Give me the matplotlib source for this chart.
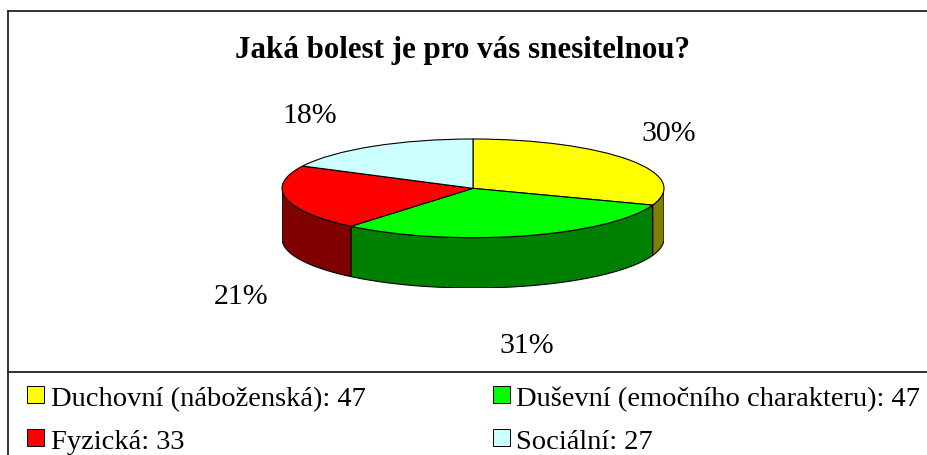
import numpy as np
import matplotlib
matplotlib.use("Agg")
import matplotlib.pyplot as plt
from matplotlib.patches import Rectangle, Polygon

# ---- data ----
categories = ["Duchovní (náboženská)", "Duševní (emočního charakteru)", "Fyzická", "Sociální"]
values = [47, 47, 33, 27]
pct_labels = [30, 31, 21, 18]
title = "Jaká bolest je pro vás snesitelnou?"

top_colors = ["#FFFF00", "#00FF00", "#FF0000", "#CCFFFF"]
side_colors = ["#808000", "#008000", "#800000", "#669999"]

W, H = 928, 456
fig = plt.figure(figsize=(W / 100, H / 100), dpi=100)
FONT = "Liberation Serif"

# background axes in pixel coordinates
bg = fig.add_axes([0, 0, 1, 1])
bg.set_xlim(0, W)
bg.set_ylim(H, 0)
bg.axis("off")

# frame lines
lc = "#222222"
bg.plot([8, W], [12, 12], color=lc, lw=1.3)
bg.plot([8, 8], [12, H], color=lc, lw=1.3)
bg.plot([8, W], [373, 373], color=lc, lw=1.3)

# title
bg.text(463, 58, title, ha="center", va="baseline", fontsize=22.3,
        fontweight="bold", family=FONT)

# ---- 3D-looking pie ----
depth = 1.02  # in units of the vertical semi-axis
left, right, top, bottom = 282, 664, 140, 289
ax = fig.add_axes([left / W, 1 - bottom / H, (right - left) / W, (bottom - top) / H])
wedges, _ = ax.pie(values, colors=top_colors, startangle=90, counterclock=False,
                   wedgeprops=dict(edgecolor="black", linewidth=0.8))
ax.set_aspect("auto")
ax.set_xlim(-1, 1)
ax.set_ylim(-1 - depth, 1)
ax.axis("off")

for w, sc in zip(wedges, side_colors):
    t1, t2 = w.theta1, w.theta2
    # visible front part: angles in (180, 360) modulo 360
    for shift in (-360, 0, 360):
        a1 = max(t1 + shift, 180)
        a2 = min(t2 + shift, 360)
        if a2 > a1:
            t = np.radians(np.linspace(a1, a2, 100))
            xs = np.cos(t)
            ys = np.sin(t)
            pts = np.concatenate([np.column_stack([xs, ys]),
                                  np.column_stack([xs[::-1], ys[::-1] - depth])])
            ax.add_patch(Polygon(pts, closed=True, facecolor=sc, edgecolor="black",
                                 linewidth=0.8, zorder=0.5))

# percentage labels
label_pos = [(669, 141), (527, 353), (241, 304), (310, 123)]
for p, (x, y) in zip(pct_labels, label_pos):
    bg.text(x, y, f"{p}%", ha="center", va="baseline", fontsize=21.5, family=FONT)

# legend
leg_pos = [(27, 387, 51), (493, 387, 516), (27, 430, 51), (493, 430, 516)]
for cat, v, col, (sx, sy, tx) in zip(categories, values, top_colors, leg_pos):
    bg.add_patch(Rectangle((sx, sy), 17, 17, facecolor=col, edgecolor="black", lw=0.7))
    bg.text(tx, sy + 19, f"{cat}: {v}", ha="left", va="baseline", fontsize=20.5,
            family=FONT)

fig.savefig("out.png", dpi=100)
